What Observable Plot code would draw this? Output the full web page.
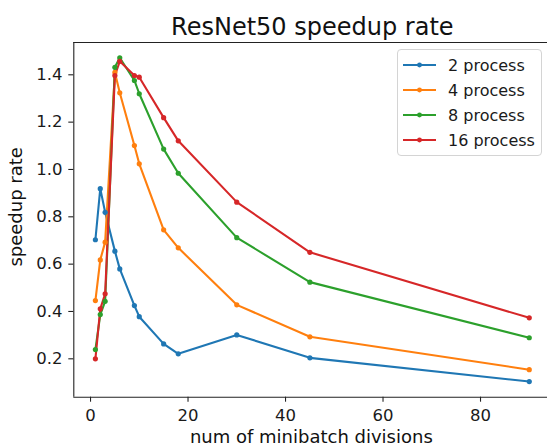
<!DOCTYPE html>
<html>
<head>
<meta charset="utf-8">
<script src="https://cdn.jsdelivr.net/npm/d3@7"></script>
<script src="https://cdn.jsdelivr.net/npm/@observablehq/plot@0.6"></script>
<style>
  html, body { margin: 0; padding: 0; background: white; }
  #wrap { position: relative; width: 547px; height: 447px; overflow: hidden; font-family: "DejaVu Sans", sans-serif; }
  #legend { position: absolute; left: 397px; top: 49px; width: 143px; height: 105px;
    border: 1px solid #d4d4d4; border-radius: 4px; background: rgba(255,255,255,0.8); box-sizing: content-box; }
  .row { position: absolute; left: 0; height: 20px; display: flex; align-items: center; }
  .row svg { margin-left: 5px; }
  .row span { margin-left: 12px; font-size: 16px; color: #1a1a1a; }
</style>
</head>
<body>
<div id="wrap"><div id="chart"></div><div id="legend"></div></div>
<script>
// ---- data ----
const divisions = [1, 2, 3, 5, 6, 9, 10, 15, 18, 30, 45, 90];
const seriesNames = ["2 process", "4 process", "8 process", "16 process"];
const seriesColors = ["#1f77b4", "#ff7f0e", "#2ca02c", "#d62728"];
const proc2  = [0.703, 0.919, 0.819, 0.655, 0.580, 0.425, 0.378, 0.263, 0.221, 0.301, 0.204, 0.104];
const proc4  = [0.446, 0.618, 0.693, 1.410, 1.324, 1.101, 1.024, 0.745, 0.669, 0.428, 0.293, 0.154];
const proc8  = [0.239, 0.387, 0.443, 1.432, 1.472, 1.376, 1.320, 1.086, 0.984, 0.712, 0.524, 0.289];
const proc16 = [0.200, 0.411, 0.475, 1.397, 1.457, 1.397, 1.390, 1.219, 1.121, 0.862, 0.650, 0.373];
const xTicks = [0, 20, 40, 60, 80];
const yTicks = [0.2, 0.4, 0.6, 0.8, 1.0, 1.2, 1.4];
const titleText = "ResNet50 speedup rate";
const xLabel = "num of minibatch divisions";
const yLabel = "speedup rate";

const seriesValues = [proc2, proc4, proc8, proc16];
const rows = seriesNames.flatMap((name, i) =>
  divisions.map((d, j) => ({series: name, x: d, y: seriesValues[i][j]})));

const xDomain = [-3.43, 93.74];
const yDomain = [0.0378, 1.5365];
const font = "DejaVu Sans";

const chart = Plot.plot({
  width: 547,
  height: 447,
  marginLeft: 73.3,
  marginRight: 0,
  marginTop: 42,
  marginBottom: 50.3,
  style: {fontFamily: font, background: "white", color: "#1a1a1a", overflow: "visible"},
  x: {domain: xDomain},
  y: {domain: yDomain},
  color: {domain: seriesNames, range: seriesColors},
  marks: [
    Plot.axisX({ticks: xTicks, tickSize: 5, tickPadding: 7.5, fontSize: 16.5, label: null, stroke: "#222", strokeWidth: 1.1}),
    Plot.axisY({ticks: yTicks, tickSize: 5, tickPadding: 6.3, fontSize: 16.5, label: null, tickFormat: d3.format(".1f"), stroke: "#222", strokeWidth: 1.1}),
    Plot.ruleX([xDomain[0]], {stroke: "#222", strokeWidth: 1.1}),
    Plot.ruleY(yDomain, {stroke: "#222", strokeWidth: 1.1}),
    ...seriesNames.map(name => Plot.line(rows.filter(r => r.series === name), {x: "x", y: "y", stroke: "series", strokeWidth: 2.1})),
    ...seriesNames.map(name => Plot.dot(rows.filter(r => r.series === name), {x: "x", y: "y", fill: "series", r: 2.6})),
    Plot.text([titleText], {frameAnchor: "top", dx: 1.7, dy: -24.7, lineAnchor: "top", fontSize: 24, fill: "#111"}),
    Plot.text([xLabel], {frameAnchor: "bottom", dx: 0.7, dy: 33.5, lineAnchor: "top", fontSize: 18, fill: "#111"}),
    Plot.text([yLabel], {frameAnchor: "left", dx: -57.8, dy: -13, rotate: -90, textAnchor: "middle", lineAnchor: "middle", fontSize: 18, fill: "#111"})
  ]
});
document.getElementById("chart").appendChild(chart);

// legend (HTML overlay)
const legend = document.getElementById("legend");
seriesNames.forEach((name, i) => {
  const row = document.createElement("div");
  row.className = "row";
  row.style.top = (5 + i * 25) + "px";
  row.innerHTML = `<svg width="33" height="8"><line x1="0" y1="4" x2="33" y2="4" stroke="${seriesColors[i]}" stroke-width="2.1"/><circle cx="16.5" cy="4" r="2.4" fill="${seriesColors[i]}"/></svg><span>${name}</span>`;
  legend.appendChild(row);
});
</script>
</body>
</html>
